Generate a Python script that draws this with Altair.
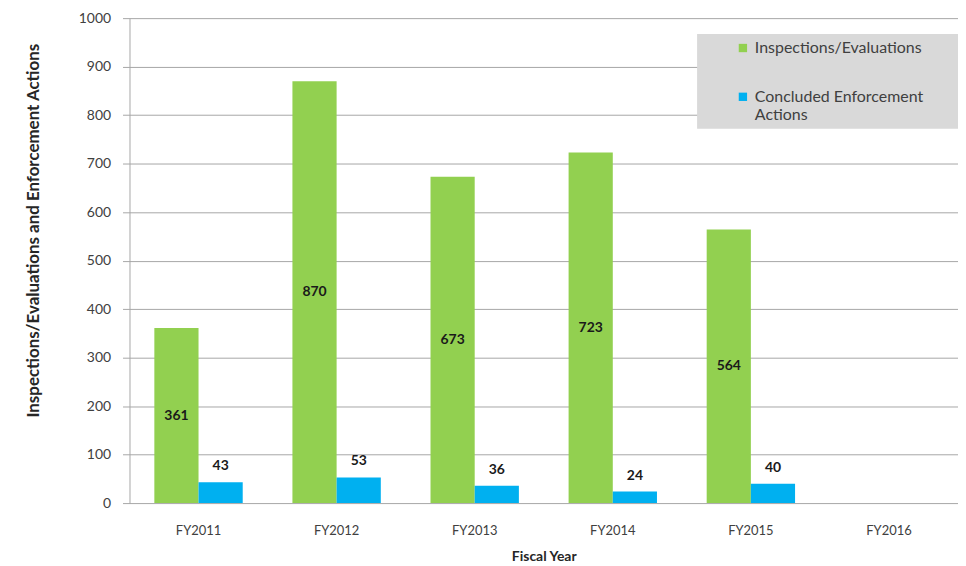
import altair as alt
import pandas as pd

years = ["FY2011", "FY2012", "FY2013", "FY2014", "FY2015", "FY2016"]
inspections = [361, 870, 673, 723, 564, None]
enforcement = [43, 53, 36, 24, 40, None]
series = ["Inspections/Evaluations", "Concluded Enforcement Actions"]
colors = ["#92d050", "#00b0f0"]

rows = []
for y, a, b in zip(years, inspections, enforcement):
    rows.append({"year": y, "series": series[0], "value": a})
    rows.append({"year": y, "series": series[1], "value": b})
df = pd.DataFrame(rows)

FONT = "Lato"

x_enc = alt.X("year:N", sort=years, scale=alt.Scale(domain=years, paddingInner=0.36, paddingOuter=0.18),
              axis=alt.Axis(title="Fiscal Year", labelAngle=0, ticks=False, domain=False,
                            labelPadding=22, labelFontSize=13, labelColor="#404040", labelFont=FONT,
                            titleFont=FONT, titleFontSize=14, titleFontWeight="bold", titleColor="#262626",
                            titlePadding=12))
xoff = alt.XOffset("series:N", sort=series, scale=alt.Scale(domain=series))

bars = alt.Chart(df).mark_bar().encode(
    x=x_enc,
    xOffset=xoff,
    y=alt.Y("value:Q", scale=alt.Scale(domain=[0, 1000], nice=False),
            axis=alt.Axis(title="Inspections/Evaluations and Enforcement Actions", values=list(range(0, 1001, 100)),
                          format="d",
                          tickSize=7, tickColor="#a6a6a6", domainColor="#a6a6a6", gridColor="#a6a6a6",
                          labelPadding=12, labelFontSize=14, labelColor="#404040", labelFont=FONT,
                          titleFont=FONT, titleFontSize=17, titleFontWeight="bold", titleColor="#262626",
                          titleX=-87, titleY=213)),
    color=alt.Color("series:N", sort=series, scale=alt.Scale(domain=series, range=colors),
                    legend=alt.Legend(title=" ", titleOrient="right", titlePadding=33,
                                      orient="none", legendX=570, legendY=16,
                                      fillColor="#d9d9d9", padding=6, symbolOffset=32,
                                      symbolType="square", symbolSize=70, symbolStrokeWidth=0,
                                      labelFont=FONT, labelFontSize=16, labelColor="#404040",
                                      labelLimit=400,
                                      labelBaseline="middle", labelOffset=4, rowPadding=33,
                                      labelExpr="datum.label == 'Concluded Enforcement Actions' ? ['Concluded Enforcement', 'Actions'] : datum.label")),
)

green_lbl = alt.Chart(df).transform_filter(
    alt.datum.series == series[0]
).transform_filter("isValid(datum.value)").transform_calculate(
    mid="datum.value / 2"
).mark_text(font=FONT, fontSize=14, fontWeight="bold", color="#1a1a1a").encode(
    x=alt.X("year:N", sort=years),
    xOffset=xoff,
    y=alt.Y("mid:Q"),
    text=alt.Text("value:Q"),
)

blue_lbl = alt.Chart(df).transform_filter(
    alt.datum.series == series[1]
).transform_filter("isValid(datum.value)").mark_text(
    font=FONT, fontSize=14, fontWeight="bold", color="#1a1a1a", baseline="bottom", dy=-9
).encode(
    x=alt.X("year:N", sort=years),
    xOffset=xoff,
    y=alt.Y("value:Q"),
    text=alt.Text("value:Q"),
)

chart = alt.layer(bars, green_lbl, blue_lbl).properties(
    width=832, height=487,
    autosize=alt.AutoSizeParams(type="none"),
    padding={"left": 122, "top": 9, "right": 0, "bottom": 62},
).configure_view(stroke=None).configure_axisX(grid=False)

chart.save("out.html", embed_options={"renderer": "svg", "actions": False})
